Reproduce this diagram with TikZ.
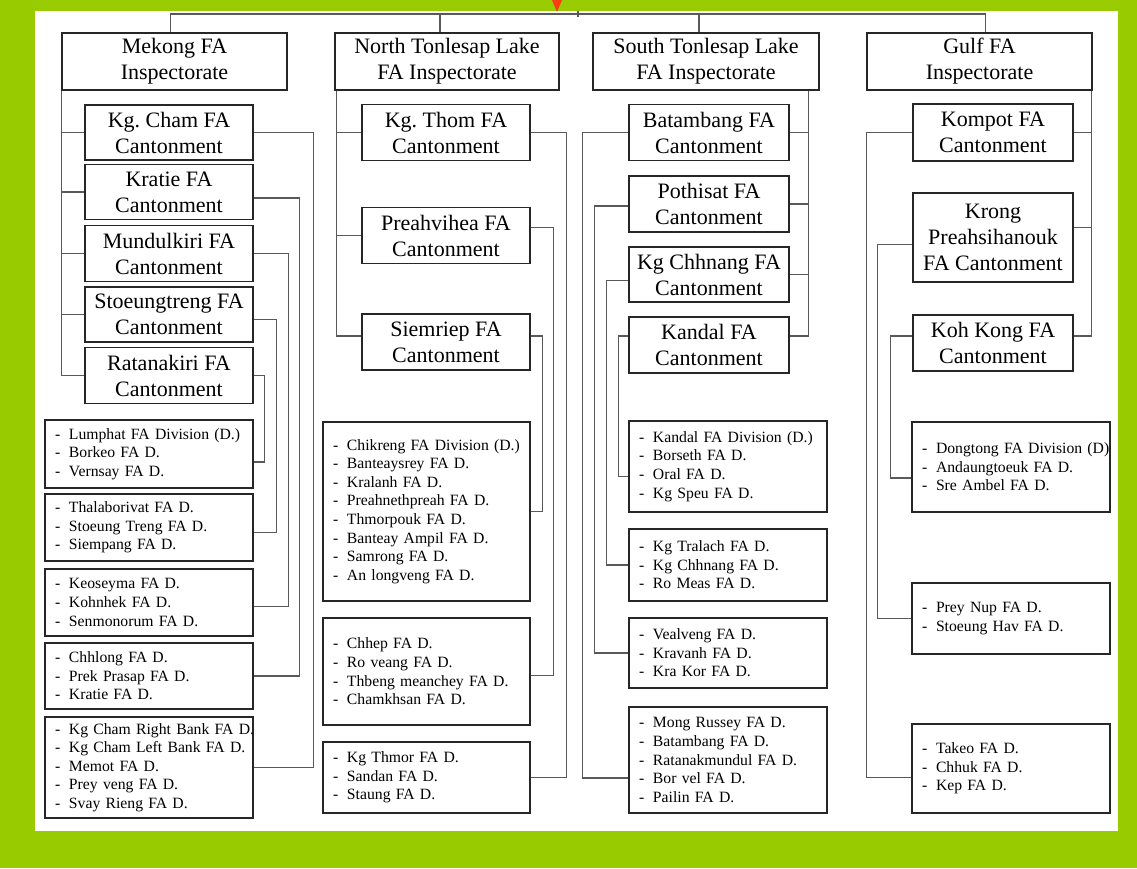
\documentclass[tikz,border=0pt]{standalone}
\usepackage{fontspec}
\setmainfont{Liberation Serif}
\usepackage{xcolor}
\usepackage{tikz}

\definecolor{fagreen}{RGB}{153,204,0}
\definecolor{arrowred}{RGB}{250,60,20}
\newcommand{\dl}[1]{\mbox{\makebox[14pt][l]{-}#1}}
\frenchspacing

\begin{document}
\begin{tikzpicture}[x=1pt,y=-1pt,
    insp/.style={draw=black!85, line width=1.8pt, inner sep=0pt, align=center,
      minimum height=57, font=\fontsize{22}{26}\selectfont},
    canton/.style={draw=black!85, line width=1.8pt, inner sep=0pt, align=center,
      font=\fontsize{22}{26}\selectfont},
    dist/.style={draw=black!85, line width=1.8pt, inner xsep=10pt, inner ysep=0pt, align=left,
      font=\fontsize{15.7}{18.6}\selectfont},
    conn/.style={draw=black!65, line width=1.1pt}]
    \useasboundingbox (0,0) rectangle (1137,868);
    \fill[fagreen] (0,0) rectangle (1137,868);
    \fill[white] (35,11) rectangle (1118,831);
    \fill[arrowred] (552,0) -- (562,0) -- (557,12) -- cycle;

    % inspectorates
    \node[insp, minimum width=225] (mekong) at (174.5,61.5) {Mekong FA\\Inspectorate};
    \node[insp, minimum width=224] (north) at (447,61.5) {North Tonlesap Lake\\FA Inspectorate};
    \node[insp, minimum width=226] (south) at (706,61.5) {South Tonlesap Lake\\FA Inspectorate};
    \node[insp, minimum width=225] (gulf) at (979.5,61.5) {Gulf FA\\Inspectorate};

    % cantonments
    \node[canton, minimum width=168, minimum height=55] (kgcham) at (169,132.5) {Kg. Cham FA\\Cantonment};
    \node[canton, minimum width=168, minimum height=55] (kratie) at (169,192) {Kratie FA\\Cantonment};
    \node[canton, minimum width=168, minimum height=56] (mundul) at (169,253.5) {Mundulkiri FA\\Cantonment};
    \node[canton, minimum width=168, minimum height=55] (stoeung) at (169,314.5) {Stoeungtreng FA\\Cantonment};
    \node[canton, minimum width=168, minimum height=56] (ratana) at (169,375.5) {Ratanakiri FA\\Cantonment};

    \node[canton, minimum width=168, minimum height=56] (kgthom) at (446,132.5) {Kg. Thom FA\\Cantonment};
    \node[canton, minimum width=168, minimum height=56] (preah) at (446,235.5) {Preahvihea FA\\Cantonment};
    \node[canton, minimum width=168, minimum height=56] (siem) at (446,342) {Siemriep FA\\Cantonment};

    \node[canton, minimum width=160, minimum height=56] (batam) at (709,132.5) {Batambang FA\\Cantonment};
    \node[canton, minimum width=160, minimum height=56] (pothi) at (709,204) {Pothisat FA\\Cantonment};
    \node[canton, minimum width=160, minimum height=55] (kgchh) at (709,274.5) {Kg Chhnang FA\\Cantonment};
    \node[canton, minimum width=160, minimum height=56] (kandal) at (709,345) {Kandal FA\\Cantonment};

    \node[canton, minimum width=160, minimum height=57] (kompot) at (993,132.5) {Kompot FA\\Cantonment};
    \node[canton, minimum width=160, minimum height=89] (krong) at (993,237.5) {Krong\\Preahsihanouk\\FA Cantonment};
    \node[canton, minimum width=160, minimum height=56] (kohkong) at (993,343) {Koh Kong FA\\Cantonment};

    % divisions
    \node[dist, text width=188, minimum height=68] (mk1) at (149,454)
      {\dl{Lumphat FA Division (D.)}\\\dl{Borkeo FA D.}\\\dl{Vernsay FA D.}};
    \node[dist, text width=188, minimum height=67] (mk2) at (149,527.5)
      {\dl{Thalaborivat FA D.}\\\dl{Stoeung Treng FA D.}\\\dl{Siempang FA D.}};
    \node[dist, text width=188, minimum height=67] (mk3) at (149,602.5)
      {\dl{Keoseyma FA D.}\\\dl{Kohnhek FA D.}\\\dl{Senmonorum FA D.}};
    \node[dist, text width=188, minimum height=66] (mk4) at (149,676)
      {\dl{Chhlong FA D.}\\\dl{Prek Prasap FA D.}\\\dl{Kratie FA D.}};
    \node[dist, text width=188, minimum height=101] (mk5) at (149,767.5)
      {\dl{Kg Cham Right Bank FA D.}\\\dl{Kg Cham Left Bank FA D.}\\\dl{Memot FA D.}\\\dl{Prey veng FA D.}\\\dl{Svay Rieng FA D.}};

    \node[dist, text width=187, minimum height=179] (nt1) at (426.5,511.5)
      {\dl{Chikreng FA Division (D.)}\\\dl{Banteaysrey FA D.}\\\dl{Kralanh FA D.}\\\dl{Preahnethpreah FA D.}\\\dl{Thmorpouk FA D.}\\\dl{Banteay Ampil FA D.}\\\dl{Samrong FA D.}\\\dl{An longveng FA D.}};
    \node[dist, text width=187, minimum height=107] (nt2) at (426.5,671.5)
      {\dl{Chhep FA D.}\\\dl{Ro veang FA D.}\\\dl{Thbeng meanchey FA D.}\\\dl{Chamkhsan FA D.}};
    \node[dist, text width=187, minimum height=71] (nt3) at (426.5,777.5)
      {\dl{Kg Thmor FA D.}\\\dl{Sandan FA D.}\\\dl{Staung FA D.}};

    \node[dist, text width=178, minimum height=91] (st1) at (728,466.5)
      {\dl{Kandal FA Division (D.)}\\\dl{Borseth FA D.}\\\dl{Oral FA D.}\\\dl{Kg Speu FA D.}};
    \node[dist, text width=178, minimum height=72] (st2) at (728,565)
      {\dl{Kg Tralach FA D.}\\\dl{Kg Chhnang FA D.}\\\dl{Ro Meas FA D.}};
    \node[dist, text width=178, minimum height=70] (st3) at (728,653)
      {\dl{Vealveng FA D.}\\\dl{Kravanh FA D.}\\\dl{Kra Kor FA D.}};
    \node[dist, text width=178, minimum height=106] (st4) at (728,760)
      {\dl{Mong Russey FA D.}\\\dl{Batambang FA D.}\\\dl{Ratanakmundul FA D.}\\\dl{Bor vel FA D.}\\\dl{Pailin FA D.}};

    \node[dist, text width=178, minimum height=90] (gf1) at (1011,467)
      {\dl{Dongtong FA Division (D)}\\\dl{Andaungtoeuk FA D.}\\\dl{Sre Ambel FA D.}};
    \node[dist, text width=178, minimum height=71] (gf2) at (1011,618.5)
      {\dl{Prey Nup FA D.}\\\dl{Stoeung Hav FA D.}};
    \node[dist, text width=178, minimum height=89] (gf3) at (1011,768.5)
      {\dl{Takeo FA D.}\\\dl{Chhuk FA D.}\\\dl{Kep FA D.}};

    % top bus
    \coordinate (hub) at (578,14);
    \draw[conn] ([xshift=-4pt]mekong.north) |- (hub) -| ([xshift=6pt]gulf.north);
    \draw[conn] ([xshift=-7pt]north.north) |- (hub);
    \draw[conn] ([xshift=-7pt]south.north) |- (hub);
    \draw[conn] ([yshift=3pt]hub) -- ([yshift=-3pt]hub);

    % Mekong
    \foreach \c in {kgcham,kratie,mundul,stoeung,ratana}
      \draw[conn] (mekong.south west) |- (\c.west);
    \draw[conn] (kgcham.east) -- ++(60,0) |- (mk5.east);
    \draw[conn] ([yshift=-6pt]kratie.east) -- ++(46,0) |- (mk4.east);
    \draw[conn] (mundul.east) -- ++(35,0) |- ([yshift=-4pt]mk3.east);
    \draw[conn] ([yshift=-5pt]stoeung.east) -- ++(23,0) |- ([yshift=-5pt]mk2.east);
    \draw[conn] (ratana.east) -- ++(11,0) |- ([yshift=-8pt]mk1.east);

    % North Tonlesap
    \draw[conn] ([xshift=2pt]north.south west) |- (kgthom.west);
    \draw[conn] ([xshift=2pt]north.south west) |- (preah.west);
    \draw[conn] ([xshift=2pt]north.south west) |- ([yshift=6pt]siem.west);
    \draw[conn] (kgthom.east) -- ++(36,0) |- (nt3.east);
    \draw[conn] ([yshift=8pt]preah.east) -- ++(23,0) |- ([yshift=-4pt]nt2.east);
    \draw[conn] ([yshift=6pt]siem.east) -- ++(12,0) |- (nt1.east);

    % South Tonlesap
    \draw[conn] ([xshift=-11pt]south.south east) |- (batam.east);
    \draw[conn] ([xshift=-11pt]south.south east) |- (pothi.east);
    \draw[conn] ([xshift=-11pt]south.south east) |- (kgchh.east);
    \draw[conn] ([xshift=-11pt]south.south east) |- ([yshift=9pt]kandal.east);
    \draw[conn] (batam.west) -- ++(-46,0) |- ([yshift=-18pt]st4.west);
    \draw[conn] ([yshift=-2pt]pothi.west) -- ++(-34,0) |- (st3.west);
    \draw[conn] ([yshift=-6pt]kgchh.west) -- ++(-22,0) |- (st2.west);
    \draw[conn] ([yshift=9pt]kandal.west) -- ++(-10,0) |- ([yshift=-10pt]st1.west);

    % Gulf
    \draw[conn] ([xshift=-1pt]gulf.south east) |- (kompot.east);
    \draw[conn] ([xshift=-1pt]gulf.south east) |- ([yshift=10pt]krong.east);
    \draw[conn] ([xshift=-1pt]gulf.south east) |- ([yshift=7pt]kohkong.east);
    \draw[conn] (kompot.west) -- ++(-46,0) |- ([yshift=-9pt]gf3.west);
    \draw[conn] ([yshift=-7pt]krong.west) -- ++(-35,0) |- (gf2.west);
    \draw[conn] ([yshift=7pt]kohkong.west) -- ++(-22,0) |- ([yshift=-11pt]gf1.west);
  \end{tikzpicture}
\end{document}
